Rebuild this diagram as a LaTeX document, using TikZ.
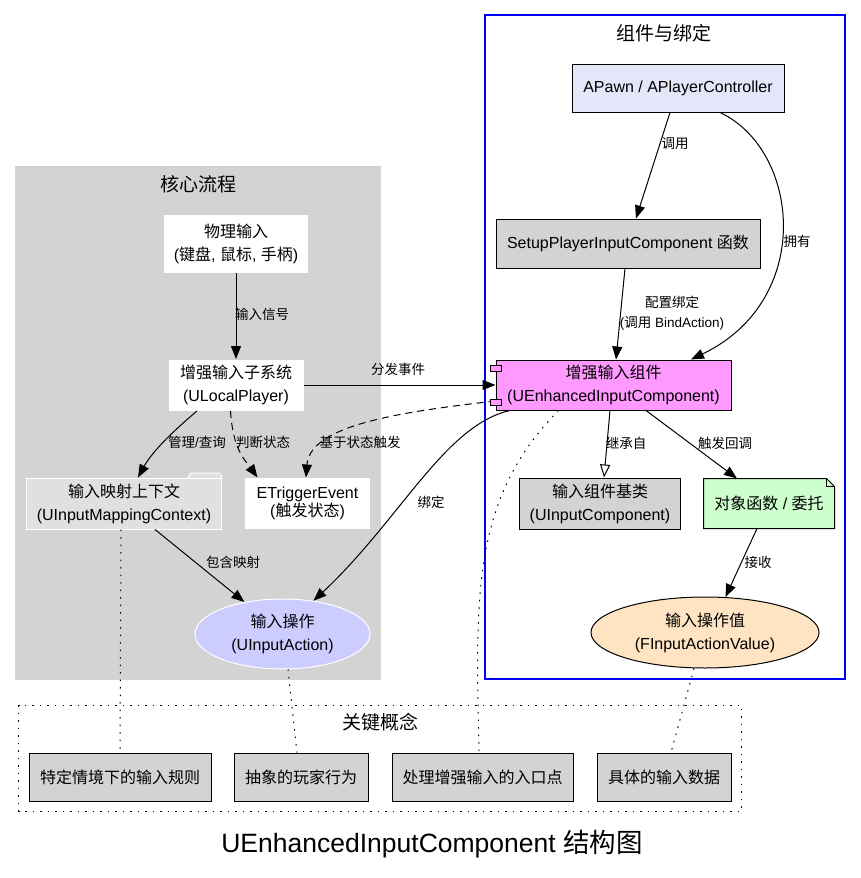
\documentclass[tikz,border=0pt]{standalone}
\usepackage{fontspec}
\setmainfont{Liberation Sans}
\newfontfamily\cjkfont{Noto Sans CJK SC}
% Chinese characters switch to the CJK font by themselves
\XeTeXinterchartokenstate=1
\newXeTeXintercharclass\cjkclass
\newcount\cjkcnt
\cjkcnt="4E00
\loop
  \XeTeXcharclass\cjkcnt=\cjkclass
  \ifnum\cjkcnt<"9FFF \advance\cjkcnt by 1
\repeat
\XeTeXinterchartoks 0 \cjkclass={\begingroup\cjkfont}
\XeTeXinterchartoks 4095 \cjkclass={\begingroup\cjkfont}
\XeTeXinterchartoks \cjkclass 0={\endgroup}
\XeTeXinterchartoks \cjkclass 4095={\endgroup}
\usetikzlibrary{arrows.meta,shapes.geometric}
\definecolor{clustergray}{HTML}{D3D3D3}
\definecolor{clusterblue}{HTML}{0000FF}
\definecolor{imcfill}{HTML}{E0E0E0}
\definecolor{iafill}{HTML}{CCCCFF}
\definecolor{pawnfill}{HTML}{E6E6FA}
\definecolor{eicfill}{HTML}{FF99FF}
\definecolor{funcfill}{HTML}{CCFFCC}
\definecolor{valfill}{HTML}{FFE4C4}
\newcommand\boxfont{\fontsize{16}{23}\selectfont}
\newcommand\lblfont{\fontsize{13.5}{20}\selectfont}
\begin{document}
\begin{tikzpicture}[x=1pt,y=-1pt,line width=1pt,>={Triangle[length=13pt,width=10pt]},
  box/.style={draw,inner sep=0pt,align=center,font=\boxfont},
  plain/.style={fill=white,inner sep=0pt,align=center,font=\boxfont},
  oval/.style={ellipse,inner sep=0pt,align=center,font=\boxfont},
  lbl/.style={inner sep=0pt,align=center,font=\lblfont},
  cltitle/.style={inner sep=0pt,font=\fontsize{19}{23}\selectfont},
  dotline/.style={dash pattern=on 1.5pt off 6pt},
  dashline/.style={dash pattern=on 7pt off 5pt}]
\useasboundingbox (0,0) rectangle (861,878);
% clusters
\fill[clustergray] (15,166) rectangle (381,680);
\draw[draw=clusterblue,line width=1.5pt] (485,15) rectangle (845,679);
\draw[dotline] (18.5,705) rectangle (741.5,811);
\node[cltitle] (tcore) at (198,184) {核心流程};
\node[cltitle] (tbind) at (664,33) {组件与绑定};
\node[cltitle] (tkey) at (380,722) {关键概念};

% core flow
\node[plain,minimum width=144pt,minimum height=58pt] (phys) at (236,243.5) {物理输入\\(键盘, 鼠标, 手柄)};
\node[plain,minimum width=135pt,minimum height=51pt] (subsys) at (236,385) {增强输入子系统\\(ULocalPlayer)};
\filldraw[fill=imcfill,draw=white] (187,479) -- (191,473) -- (219,473) -- (221.5,475.5) -- (221.5,479);
\node[plain,draw=white,fill=imcfill,minimum width=195pt,minimum height=51pt] (imc) at (124,503.5) {输入映射上下文\\(UInputMappingContext)};
\node[plain,minimum width=125pt,minimum height=51pt,font=\fontsize{16}{17.5}\selectfont] (trig) at (307.5,503.5) {ETriggerEvent\\(触发状态)};
\node[oval,draw=white,fill=iafill,minimum width=175pt,minimum height=70pt] (ia) at (282.5,634) {输入操作\\(UInputAction)};

% components and binding
\node[box,fill=pawnfill,minimum width=212pt,minimum height=48pt] (pawn) at (678,88) {APawn / APlayerController};
\node[box,fill=clustergray,minimum width=264pt,minimum height=49pt] (setup) at (628,243.5) {SetupPlayerInputComponent 函数};
\node[box,fill=eicfill,minimum width=235pt,minimum height=50pt] (eic) at (613.5,385) {增强输入组件\\(UEnhancedInputComponent)};
\node[box,fill=clustergray,minimum width=161pt,minimum height=51pt] (uic) at (600,503.5) {输入组件基类\\(UInputComponent)};
\node[plain,fill=funcfill,minimum width=130pt,minimum height=49pt] (func) at (769,503.5) {对象函数 / 委托};
\fill[white] ([xshift=-8pt]func.north east) -- (func.north east) -- ([yshift=-8pt]func.north east) -- cycle;
\draw (func.south west) -- (func.north west) -- ([xshift=-8pt]func.north east) -- ([yshift=-8pt]func.north east) -- (func.south east) -- cycle;
\draw ([xshift=-8pt]func.north east) |- ([yshift=-8pt]func.north east);
\node[oval,draw,fill=valfill,minimum width=228pt,minimum height=71pt] (fiav) at (705,632.5) {输入操作值\\(FInputActionValue)};

% key concepts
\node[box,fill=clustergray,minimum width=182pt,minimum height=48pt] (k1) at (120,777) {特定情境下的输入规则};
\node[box,fill=clustergray,minimum width=134pt,minimum height=48pt] (k2) at (301,777) {抽象的玩家行为};
\node[box,fill=clustergray,minimum width=181pt,minimum height=48pt] (k3) at (482.5,777) {处理增强输入的入口点};
\node[box,fill=clustergray,minimum width=134pt,minimum height=48pt] (k4) at (664,777) {具体的输入数据};

% edges
\draw[->] (phys) -- (subsys);
\node[lbl] (lsig) at (262,314) {输入信号};
\draw[->] (subsys) -- (eic);
\node[lbl] (ldisp) at (398,369) {分发事件};
\draw[->] ([xshift=-39pt]subsys.south) .. controls (172,432) and (152,452) .. ([xshift=14pt]imc.north);
\node[lbl] (lmng) at (197,442) {管理/查询};
\draw[->,dashline] ([xshift=-5.5pt]subsys.south) .. controls (233,450) and (245,460) .. ([xshift=-50pt]trig.north);
\node[lbl] (ljudge) at (263,442) {判断状态};
\draw[->,dashline] ([yshift=-16pt]eic.west) .. controls (400,412) and (310,425) .. ([xshift=-1.5pt]trig.north);
\node[lbl] (lbase) at (360,442) {基于状态触发};
\draw[->] ([xshift=31pt]imc.south) -- (ia.140);
\node[lbl] (lcont) at (233,562) {包含映射};
\draw[->] ([xshift=-103.5pt]eic.south) .. controls (445,425) and (400,520) .. (ia.47);
\node[lbl] (lbind) at (431,502) {绑定};
\draw[->] ([xshift=-8pt]pawn.south) -- ([xshift=8pt]setup.north);
\node[lbl] (lcall) at (675,144) {调用};
\draw[->] ([xshift=42pt]pawn.south) .. controls (800,150) and (815,300) .. ([xshift=77.5pt]eic.north);
\node[lbl] (lown) at (797,241) {拥有};
\draw[->] ([xshift=-3pt]setup.south) -- ([xshift=2.5pt]eic.north);
\node[lbl] (lcfg) at (672,313) {配置绑定\\(调用 BindAction)};
\draw[-{Triangle[open,length=13pt,width=10pt]}] ([xshift=-3.5pt]eic.south) -- ([xshift=4pt]uic.north);
\node[lbl] (linh) at (626,443) {继承自};
\draw[->] ([xshift=32.5pt]eic.south) -- ([xshift=-32pt]func.north);
\node[lbl] (lcb) at (725,443) {触发回调};
\draw[->] ([xshift=-12pt]func.south) -- (fiav.60);
\node[lbl] (lrecv) at (758,562) {接收};

% component ports
\filldraw[fill=eicfill] ([shift={(-5,-20)}]eic.west) rectangle ++(11,6);
\filldraw[fill=eicfill] ([shift={(-5,14)}]eic.west) rectangle ++(11,6);

% links to key concepts
\draw[dotline] ([xshift=-3pt]imc.south) -- (k1.north);
\draw[dotline] ([xshift=5.5pt]ia.south) -- ([xshift=-4pt]k2.north);
\draw[dotline] ([xshift=-55pt]eic.south) .. controls (470,500) and (476,600) .. ([xshift=-3.5pt]k3.north);
\draw[dotline] ([xshift=-11pt]fiav.south) -- ([xshift=7pt]k4.north);

\node[inner sep=0pt,font=\fontsize{26.5}{30}\selectfont] (title) at (432,844) {UEnhancedInputComponent 结构图};
\end{tikzpicture}
\end{document}
